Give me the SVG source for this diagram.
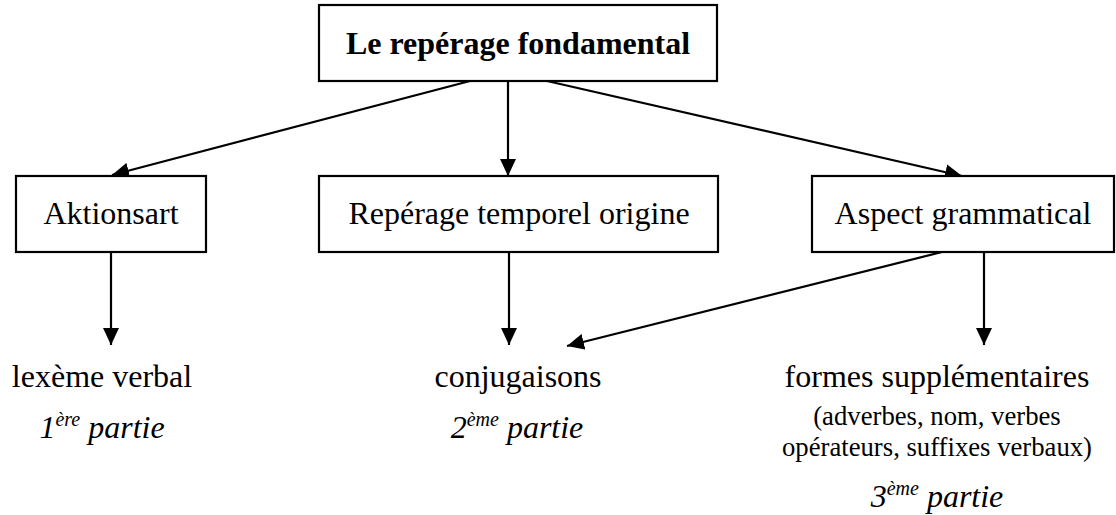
<svg xmlns="http://www.w3.org/2000/svg" width="1116" height="515" viewBox="0 0 1116 515">
<style>
.box{fill:#fff;stroke:#000;stroke-width:2.2}
.t{font-family:"Liberation Serif","Times New Roman",serif;font-size:32px;fill:#000;text-anchor:middle}
.b{font-weight:bold}
.s{font-size:26.7px}
.i{font-style:italic}
.sup{font-size:20px}
.c{stroke:#000;stroke-width:2.2;fill:none;marker-end:url(#ah)}
</style>
<defs>
<marker id="ah" markerUnits="userSpaceOnUse" markerWidth="18" markerHeight="16" refX="17" refY="8" orient="auto" viewBox="0 0 18 16">
<path d="M0,0 L17,8 L0,16 z" fill="#000"/>
</marker>
</defs>
<rect width="1116" height="515" fill="#fff"/>
<g id="connectors">
<line class="c" x1="470" y1="81" x2="112" y2="175"/>
<line class="c" x1="508" y1="81" x2="508" y2="176"/>
<line class="c" x1="547" y1="81" x2="962" y2="176"/>
<line class="c" x1="111" y1="252" x2="111" y2="345"/>
<line class="c" x1="509" y1="252" x2="509" y2="345"/>
<line class="c" x1="942" y1="252" x2="567" y2="346"/>
<line class="c" x1="984" y1="252" x2="984" y2="345"/>
</g>
<g id="root">
<rect class="box" x="319" y="5" width="398" height="76" stroke-width="2.6"/>
<text class="t b" x="518" y="54">Le repérage fondamental</text>
</g>
<g id="aktionsart">
<rect class="box" x="16" y="176" width="190" height="76"/>
<text class="t" x="111" y="224">Aktionsart</text>
</g>
<g id="reperage">
<rect class="box" x="319" y="176" width="399" height="76"/>
<text class="t" x="519" y="224">Repérage temporel origine</text>
</g>
<g id="aspect">
<rect class="box" x="812" y="176" width="302" height="76"/>
<text class="t" x="963" y="224">Aspect grammatical</text>
</g>
<g id="lexeme">
<text class="t" x="102" y="387">lexème verbal</text>
<text class="t i" x="102" y="438">1<tspan class="sup" dy="-12">ère</tspan><tspan dy="12"> partie</tspan></text>
</g>
<g id="conjugaisons">
<text class="t" x="518" y="387">conjugaisons</text>
<text class="t i" x="517" y="438">2<tspan class="sup" dy="-12">ème</tspan><tspan dy="12"> partie</tspan></text>
</g>
<g id="formes">
<text class="t" x="937" y="387">formes supplémentaires</text>
<text class="t s" x="937" y="425">(adverbes, nom, verbes</text>
<text class="t s" x="937" y="456">opérateurs, suffixes verbaux)</text>
<text class="t i" x="937" y="507">3<tspan class="sup" dy="-12">ème</tspan><tspan dy="12"> partie</tspan></text>
</g>
</svg>
